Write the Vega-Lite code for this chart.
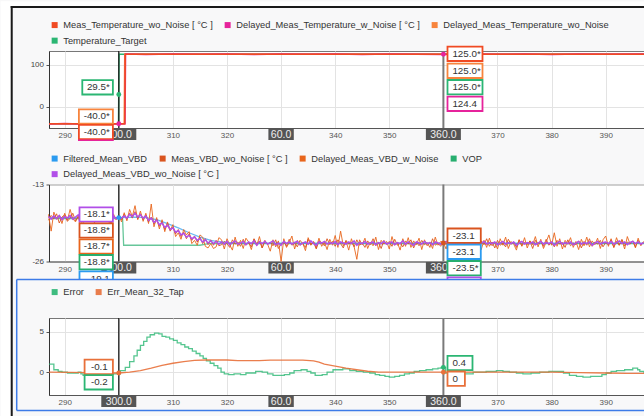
{
"$schema":"https://vega.github.io/schema/vega-lite/v6.json",
"background":"#f8f8f9",
"padding":0,
"autosize":{"type":"pad"},
"spacing":56.5,
"bounds":"flush",
"config":{"font":"Liberation Sans","view":{"stroke":"#777","fill":"white"}},
"resolve":{"scale":{"x":"independent","y":"independent","color":"independent","stroke":"independent","shape":"independent"},"legend":{"color":"independent","stroke":"independent"}},
"datasets":{
"one":[{"n":1}],
"cur":[{"k":"A","t":300,"lab":"300.0"},{"k":"D","t":330,"lab":"60.0"},{"k":"B","t":360,"lab":"360.0"}],
"d1":[
{"t":287.1,"s":"tt","v":-40},{"t":299.95,"s":"tt","v":-40},{"t":300.05,"s":"tt","v":125},{"t":397.08,"s":"tt","v":125},
{"t":287.1,"s":"dwo","v":-40},{"t":301.0,"s":"dwo","v":-40},{"t":301.1,"s":"dwo","v":125},{"t":397.08,"s":"dwo","v":125},
{"t":287.1,"s":"dw","v":-40.5},{"t":290,"s":"dw","v":-39.6},{"t":293,"s":"dw","v":-40.4},{"t":296,"s":"dw","v":-39.7},{"t":299,"s":"dw","v":-40.3},{"t":301.15,"s":"dw","v":-40},{"t":301.25,"s":"dw","v":125.4},{"t":305,"s":"dw","v":124.5},{"t":310,"s":"dw","v":125.6},{"t":315,"s":"dw","v":124.6},{"t":320,"s":"dw","v":125.5},{"t":325,"s":"dw","v":124.4},{"t":330,"s":"dw","v":125.3},{"t":335,"s":"dw","v":124.7},{"t":340,"s":"dw","v":125.6},{"t":345,"s":"dw","v":124.5},{"t":350,"s":"dw","v":125.4},{"t":355,"s":"dw","v":124.6},{"t":360,"s":"dw","v":124.4},{"t":365,"s":"dw","v":125.5},{"t":370,"s":"dw","v":124.6},{"t":375,"s":"dw","v":125.4},{"t":380,"s":"dw","v":124.5},{"t":385,"s":"dw","v":125.6},{"t":390,"s":"dw","v":124.6},{"t":397.08,"s":"dw","v":125.2},
{"t":287.1,"s":"m","v":-40},{"t":301.1,"s":"m","v":-40},{"t":301.2,"s":"m","v":125},{"t":397.08,"s":"m","v":125}
],
"dots1":[{"t":300,"v":29.5,"s":"tt"},{"t":300,"v":-40,"s":"dw"},{"t":360,"v":125,"s":"dw"}],
"ro1":[
{"t":300,"side":"L","ly":46.5,"txt":"29.5*","s":"tt"},
{"t":300,"side":"L","ly":-22.7,"txt":"-40.0*","s":"dwo"},
{"t":300,"side":"L","ly":-59.5,"txt":"-40.0*","s":"m"},
{"t":300,"side":"L","ly":-96.2,"txt":"-40.0","s":"dw"},
{"t":360,"side":"R","ly":126.0,"txt":"125.0*","s":"m"},
{"t":360,"side":"R","ly":85.6,"txt":"125.0*","s":"dwo"},
{"t":360,"side":"R","ly":46.7,"txt":"125.0*","s":"tt"},
{"t":360,"side":"R","ly":7.4,"txt":"124.4","s":"dw"}
],
"sm":[
{"t":287.1,"s":"vop","v":-19.3},{"t":300.7,"s":"vop","v":-19.3},{"t":300.9,"s":"vop","v":-24.2},{"t":315,"s":"vop","v":-24.2},{"t":316.5,"s":"vop","v":-23.9},{"t":397.08,"s":"vop","v":-23.9},
{"t":287.1,"s":"f","v":-19.1},{"t":300,"s":"f","v":-19.1},{"t":303,"s":"f","v":-19.0},{"t":305,"s":"f","v":-19.1},{"t":307,"s":"f","v":-19.5},{"t":309,"s":"f","v":-20.2},{"t":311,"s":"f","v":-21.0},{"t":313,"s":"f","v":-21.9},{"t":315,"s":"f","v":-22.7},{"t":317,"s":"f","v":-23.3},{"t":318,"s":"f","v":-23.5},{"t":320,"s":"f","v":-23.7},{"t":322,"s":"f","v":-23.8},{"t":397.08,"s":"f","v":-23.8}
],
"vbd":[
{"t":287,"a":-18.5,"b":-19.6,"c":-18.9},{"t":287.5,"a":-21.6,"b":-18.7,"c":-19.4},{"t":288,"a":-18.1,"b":-19.3,"c":-18.8},{"t":288.5,"a":-19.4,"b":-18.4,"c":-19.3},{"t":289,"a":-18.7,"b":-20.1,"c":-18.7},{"t":289.5,"a":-20.2,"b":-19.0,"c":-19.5},{"t":290,"a":-18.3,"b":-18.6,"c":-18.9},{"t":290.5,"a":-19.6,"b":-19.8,"c":-19.2},{"t":291,"a":-17.6,"b":-19.2,"c":-18.7},{"t":291.5,"a":-19.3,"b":-18.3,"c":-19.4},
{"t":292,"a":-19.9,"b":-19.7,"c":-19.0},{"t":292.5,"a":-18.8,"b":-18.9,"c":-18.6},{"t":293,"a":-21.0,"b":-19.5,"c":-19.3},{"t":293.5,"a":-18.2,"b":-20.0,"c":-18.9},{"t":294,"a":-19.0,"b":-18.5,"c":-19.5},{"t":294.5,"a":-19.7,"b":-19.1,"c":-18.8},{"t":295,"a":-18.0,"b":-18.8,"c":-19.1},{"t":295.5,"a":-20.1,"b":-19.9,"c":-19.6},{"t":296,"a":-18.6,"b":-18.6,"c":-18.7},{"t":296.5,"a":-19.2,"b":-19.4,"c":-19.2},
{"t":297,"a":-17.8,"b":-18.2,"c":-18.6},{"t":297.5,"a":-19.8,"b":-19.6,"c":-19.4},{"t":298,"a":-18.9,"b":-18.9,"c":-18.9},{"t":298.5,"a":-21.4,"b":-20.2,"c":-19.6},{"t":299,"a":-18.4,"b":-18.7,"c":-18.8},{"t":299.5,"a":-19.5,"b":-19.3,"c":-19.3},{"t":300,"a":-18.6,"b":-18.8,"c":-18.9},{"t":300.5,"a":-19.9,"b":-19.5,"c":-19.2},{"t":301,"a":-18.2,"b":-18.5,"c":-18.8},{"t":301.5,"a":-19.7,"b":-19.4,"c":-19.2},
{"t":302,"a":-17.6,"b":-18.3,"c":-18.5},{"t":302.5,"a":-18.9,"b":-19.2,"c":-18.9},{"t":303,"a":-16.9,"b":-18.0,"c":-18.3},{"t":303.5,"a":-19.5,"b":-19.3,"c":-19.0},{"t":304,"a":-17.9,"b":-18.4,"c":-18.6},{"t":304.5,"a":-19.8,"b":-19.5,"c":-19.2},{"t":305,"a":-18.3,"b":-18.6,"c":-18.8},{"t":305.5,"a":-20.2,"b":-19.9,"c":-19.6},{"t":306,"a":-16.6,"b":-19.0,"c":-19.2},{"t":306.5,"a":-20.8,"b":-20.3,"c":-20.0},
{"t":307,"a":-19.1,"b":-19.4,"c":-19.6},{"t":307.5,"a":-21.2,"b":-20.7,"c":-20.4},{"t":308,"a":-19.5,"b":-19.9,"c":-20.1},{"t":308.5,"a":-21.7,"b":-21.3,"c":-20.9},{"t":309,"a":-19.9,"b":-20.2,"c":-20.5},{"t":309.5,"a":-21.4,"b":-21.6,"c":-21.3},{"t":310,"a":-20.4,"b":-20.8,"c":-21.0},{"t":310.5,"a":-22.6,"b":-22.1,"c":-21.8},{"t":311,"a":-21.9,"b":-21.3,"c":-21.5},{"t":311.5,"a":-23.1,"b":-22.6,"c":-22.3},
{"t":312,"a":-21.3,"b":-21.8,"c":-22.0},{"t":312.5,"a":-22.3,"b":-23.0,"c":-22.7},{"t":313,"a":-21.7,"b":-22.1,"c":-22.4},{"t":313.5,"a":-23.9,"b":-23.3,"c":-23.0},{"t":314,"a":-23.3,"b":-22.5,"c":-22.7},{"t":314.5,"a":-24.2,"b":-23.6,"c":-23.3},{"t":315,"a":-22.3,"b":-22.7,"c":-23.0},{"t":315.5,"a":-22.7,"b":-23.9,"c":-23.6},{"t":316,"a":-24.4,"b":-23.0,"c":-23.2},{"t":316.5,"a":-24.7,"b":-24.1,"c":-23.8},
{"t":317,"a":-23.9,"b":-23.2,"c":-23.4},{"t":317.5,"a":-24.8,"b":-24.2,"c":-23.9},{"t":318,"a":-24.5,"b":-23.3,"c":-23.5},{"t":318.5,"a":-22.8,"b":-24.3,"c":-24.0},{"t":319,"a":-23.2,"b":-24.1,"c":-23.6},{"t":319.5,"a":-24.9,"b":-23.5,"c":-24.0},{"t":320,"a":-23.0,"b":-23.9,"c":-23.5},{"t":320.5,"a":-24.1,"b":-24.6,"c":-24.1},{"t":321,"a":-25.1,"b":-23.2,"c":-23.7},{"t":321.5,"a":-22.7,"b":-24.0,"c":-23.4},
{"t":322,"a":-24.4,"b":-23.6,"c":-24.0},{"t":322.5,"a":-23.3,"b":-24.4,"c":-23.8},{"t":323,"a":-24.8,"b":-23.1,"c":-23.5},{"t":323.5,"a":-22.9,"b":-24.2,"c":-24.1},{"t":324,"a":-23.6,"b":-23.7,"c":-23.6},{"t":324.5,"a":-25.0,"b":-24.5,"c":-23.9},{"t":325,"a":-23.1,"b":-23.0,"c":-23.4},{"t":325.5,"a":-24.3,"b":-24.0,"c":-24.2},{"t":326,"a":-22.6,"b":-23.4,"c":-23.6},{"t":326.5,"a":-24.7,"b":-24.7,"c":-23.9},
{"t":327,"a":-23.5,"b":-23.3,"c":-23.5},{"t":327.5,"a":-24.0,"b":-24.1,"c":-24.0},{"t":328,"a":-25.3,"b":-23.6,"c":-23.7},{"t":328.5,"a":-23.2,"b":-24.3,"c":-23.4},{"t":329,"a":-24.5,"b":-23.2,"c":-24.1},{"t":329.5,"a":-23.4,"b":-24.8,"c":-23.8},{"t":330,"a":-27.2,"b":-24.0,"c":-24.2},{"t":330.5,"a":-23.0,"b":-23.5,"c":-23.5},{"t":331,"a":-24.6,"b":-24.4,"c":-23.9},{"t":331.5,"a":-23.7,"b":-23.1,"c":-23.6},
{"t":332,"a":-22.5,"b":-24.2,"c":-24.0},{"t":332.5,"a":-24.9,"b":-23.8,"c":-23.7},{"t":333,"a":-23.3,"b":-24.5,"c":-23.5},{"t":333.5,"a":-24.2,"b":-23.3,"c":-24.1},{"t":334,"a":-23.8,"b":-23.9,"c":-23.8},{"t":334.5,"a":-25.2,"b":-24.6,"c":-23.6},{"t":335,"a":-22.8,"b":-23.1,"c":-24.0},{"t":335.5,"a":-24.0,"b":-24.2,"c":-23.4},{"t":336,"a":-23.5,"b":-23.6,"c":-23.9},{"t":336.5,"a":-24.7,"b":-24.9,"c":-24.2},
{"t":337,"a":-22.9,"b":-23.4,"c":-23.6},{"t":337.5,"a":-24.4,"b":-23.7,"c":-23.8},{"t":338,"a":-23.6,"b":-24.3,"c":-23.5},{"t":338.5,"a":-25.0,"b":-23.0,"c":-24.0},{"t":339,"a":-23.1,"b":-24.1,"c":-23.7},{"t":339.5,"a":-24.2,"b":-23.5,"c":-23.9},{"t":340,"a":-22.4,"b":-24.4,"c":-23.5},{"t":340.5,"a":-24.6,"b":-23.2,"c":-24.1},{"t":341,"a":-21.6,"b":-23.9,"c":-23.6},{"t":341.5,"a":-24.3,"b":-24.7,"c":-23.8},
{"t":342,"a":-23.4,"b":-23.3,"c":-24.0},{"t":342.5,"a":-25.1,"b":-24.0,"c":-23.6},{"t":343,"a":-23.0,"b":-23.6,"c":-23.9},{"t":343.5,"a":-24.5,"b":-24.5,"c":-23.4},{"t":344,"a":-26.8,"b":-23.2,"c":-24.2},{"t":344.5,"a":-23.2,"b":-24.2,"c":-23.7},{"t":345,"a":-24.1,"b":-23.8,"c":-23.9},{"t":345.5,"a":-22.9,"b":-24.6,"c":-23.5},{"t":346,"a":-24.8,"b":-23.4,"c":-24.0},{"t":346.5,"a":-23.6,"b":-24.1,"c":-23.8},
{"t":347,"a":-24.3,"b":-23.0,"c":-23.6},{"t":347.5,"a":-22.7,"b":-24.3,"c":-24.1},{"t":348,"a":-25.0,"b":-23.7,"c":-23.7},{"t":348.5,"a":-23.3,"b":-24.8,"c":-23.9},{"t":349,"a":-24.0,"b":-23.3,"c":-23.5},{"t":349.5,"a":-23.5,"b":-24.0,"c":-24.0},{"t":350,"a":-24.9,"b":-23.5,"c":-23.8},{"t":350.5,"a":-22.6,"b":-24.4,"c":-23.6},{"t":351,"a":-24.2,"b":-23.1,"c":-24.1},{"t":351.5,"a":-23.7,"b":-24.2,"c":-23.7},
{"t":352,"a":-25.1,"b":-23.8,"c":-23.9},{"t":352.5,"a":-23.0,"b":-24.5,"c":-23.4},{"t":353,"a":-24.4,"b":-23.4,"c":-24.0},{"t":353.5,"a":-22.8,"b":-24.0,"c":-23.6},{"t":354,"a":-24.6,"b":-23.2,"c":-23.9},{"t":354.5,"a":-23.4,"b":-24.7,"c":-24.2},{"t":355,"a":-24.1,"b":-23.6,"c":-23.6},{"t":355.5,"a":-22.9,"b":-24.3,"c":-23.8},{"t":356,"a":-25.0,"b":-23.3,"c":-24.0},{"t":356.5,"a":-23.2,"b":-24.1,"c":-23.5},
{"t":357,"a":-24.3,"b":-23.7,"c":-23.9},{"t":357.5,"a":-23.6,"b":-24.6,"c":-23.7},{"t":358,"a":-24.8,"b":-23.0,"c":-24.1},{"t":358.5,"a":-22.7,"b":-24.2,"c":-23.6},{"t":359,"a":-24.2,"b":-23.8,"c":-23.8},{"t":359.5,"a":-23.5,"b":-24.4,"c":-24.0},{"t":360,"a":-23.7,"b":-23.5,"c":-23.8},{"t":360.5,"a":-24.9,"b":-24.1,"c":-23.5},{"t":361,"a":-22.8,"b":-23.3,"c":-24.0},{"t":361.5,"a":-24.4,"b":-24.6,"c":-23.7},
{"t":362,"a":-23.3,"b":-23.6,"c":-23.9},{"t":362.5,"a":-25.2,"b":-24.2,"c":-23.6},{"t":363,"a":-23.0,"b":-23.1,"c":-24.1},{"t":363.5,"a":-24.1,"b":-24.5,"c":-23.8},{"t":364,"a":-22.6,"b":-23.7,"c":-23.5},{"t":364.5,"a":-24.7,"b":-24.0,"c":-24.0},{"t":365,"a":-23.4,"b":-23.2,"c":-23.7},{"t":365.5,"a":-24.5,"b":-24.8,"c":-23.9},{"t":366,"a":-23.1,"b":-23.5,"c":-23.6},{"t":366.5,"a":-24.0,"b":-24.3,"c":-24.2},
{"t":367,"a":-25.0,"b":-23.4,"c":-23.8},{"t":367.5,"a":-23.3,"b":-24.1,"c":-23.5},{"t":368,"a":-24.6,"b":-23.0,"c":-24.0},{"t":368.5,"a":-22.9,"b":-24.4,"c":-23.7},{"t":369,"a":-24.3,"b":-23.6,"c":-23.9},{"t":369.5,"a":-23.6,"b":-24.7,"c":-23.6},{"t":370,"a":-24.9,"b":-23.3,"c":-24.1},{"t":370.5,"a":-23.0,"b":-24.2,"c":-23.8},{"t":371,"a":-24.2,"b":-23.8,"c":-23.5},{"t":371.5,"a":-22.7,"b":-24.5,"c":-24.0},
{"t":372,"a":-24.8,"b":-23.1,"c":-23.7},{"t":372.5,"a":-23.5,"b":-24.0,"c":-23.9},{"t":373,"a":-24.0,"b":-23.6,"c":-23.6},{"t":373.5,"a":-25.1,"b":-24.6,"c":-24.2},{"t":374,"a":-23.2,"b":-23.2,"c":-23.8},{"t":374.5,"a":-24.4,"b":-24.3,"c":-23.5},{"t":375,"a":-22.8,"b":-23.7,"c":-24.0},{"t":375.5,"a":-24.7,"b":-24.1,"c":-23.7},{"t":376,"a":-23.4,"b":-23.4,"c":-23.9},{"t":376.5,"a":-24.1,"b":-24.8,"c":-23.6},
{"t":377,"a":-22.6,"b":-23.3,"c":-24.1},{"t":377.5,"a":-24.5,"b":-24.0,"c":-23.8},{"t":378,"a":-23.1,"b":-23.5,"c":-23.5},{"t":378.5,"a":-24.8,"b":-24.4,"c":-24.0},{"t":379,"a":-23.6,"b":-23.1,"c":-23.7},{"t":379.5,"a":-22.3,"b":-24.2,"c":-23.9},{"t":380,"a":-24.2,"b":-23.6,"c":-23.6},{"t":380.5,"a":-21.9,"b":-24.5,"c":-24.2},{"t":381,"a":-24.4,"b":-23.3,"c":-23.8},{"t":381.5,"a":-23.0,"b":-24.0,"c":-23.5},
{"t":382,"a":-24.9,"b":-23.7,"c":-24.0},{"t":382.5,"a":-23.3,"b":-24.6,"c":-23.7},{"t":383,"a":-24.0,"b":-23.2,"c":-23.9},{"t":383.5,"a":-22.8,"b":-24.3,"c":-23.6},{"t":384,"a":-24.6,"b":-23.8,"c":-24.1},{"t":384.5,"a":-23.5,"b":-24.1,"c":-23.8},{"t":385,"a":-25.0,"b":-23.4,"c":-23.5},{"t":385.5,"a":-23.1,"b":-24.7,"c":-24.0},{"t":386,"a":-24.3,"b":-23.5,"c":-23.7},{"t":386.5,"a":-22.7,"b":-24.2,"c":-23.9},
{"t":387,"a":-24.5,"b":-23.0,"c":-23.6},{"t":387.5,"a":-23.4,"b":-24.4,"c":-24.2},{"t":388,"a":-24.1,"b":-23.6,"c":-23.8},{"t":388.5,"a":-22.9,"b":-24.0,"c":-23.5},{"t":389,"a":-24.8,"b":-23.3,"c":-24.0},{"t":389.5,"a":-23.2,"b":-24.5,"c":-23.7},{"t":390,"a":-22.5,"b":-23.7,"c":-23.6},{"t":390.5,"a":-24.4,"b":-24.1,"c":-23.9},{"t":391,"a":-23.0,"b":-23.2,"c":-23.5},{"t":391.5,"a":-24.6,"b":-24.6,"c":-24.0},
{"t":392,"a":-22.8,"b":-23.5,"c":-23.7},{"t":392.5,"a":-24.2,"b":-24.2,"c":-23.4},{"t":393,"a":-23.3,"b":-23.1,"c":-23.9},{"t":393.5,"a":-24.9,"b":-24.3,"c":-23.6},{"t":394,"a":-22.6,"b":-23.6,"c":-24.1},{"t":394.5,"a":-24.0,"b":-24.0,"c":-23.7},{"t":395,"a":-23.4,"b":-23.4,"c":-23.5},{"t":395.5,"a":-24.7,"b":-24.5,"c":-23.9},{"t":396,"a":-22.9,"b":-23.3,"c":-23.6},{"t":396.5,"a":-24.3,"b":-24.1,"c":-24.0},
{"t":397,"a":-23.5,"b":-23.7,"c":-23.7}
],
"dots2":[{"t":300,"v":-19.1,"s":"f"},{"t":360,"v":-23.8,"s":"b"}],
"ro2":[
{"t":300,"side":"L","ly":-18.53,"txt":"-18.1*","s":"c"},
{"t":300,"side":"L","ly":-21.48,"txt":"-18.8*","s":"b"},
{"t":300,"side":"L","ly":-24.43,"txt":"-18.7*","s":"a"},
{"t":300,"side":"L","ly":-27.33,"txt":"-18.8*","s":"vop"},
{"t":300,"side":"L","ly":-30.34,"txt":"-19.1","s":"f"},
{"t":360,"side":"R","ly":-22.44,"txt":"-23.1","s":"b"},
{"t":360,"side":"R","ly":-25.41,"txt":"-23.1","s":"f"},
{"t":360,"side":"R","ly":-28.44,"txt":"-23.5*","s":"vop"},
{"t":360,"side":"R","ly":-31.44,"txt":"-23.2*","s":"c"}
],
"e3":[
{"t":287.1,"s":"err","v":1.0},{"t":288.0,"s":"err","v":0.3},{"t":288.8,"s":"err","v":0.1},{"t":289.5,"s":"err","v":0.0},{"t":290.5,"s":"err","v":-0.1},{"t":292.5,"s":"err","v":0.0},{"t":293.0,"s":"err","v":-0.2},{"t":293.4,"s":"err","v":-0.4},{"t":294.3,"s":"err","v":-0.2},{"t":300.3,"s":"err","v":0.2},{"t":301.2,"s":"err","v":0.6},{"t":302.0,"s":"err","v":1.3},{"t":302.8,"s":"err","v":2.0},{"t":303.4,"s":"err","v":2.7},{"t":304.0,"s":"err","v":3.3},{"t":304.6,"s":"err","v":3.8},{"t":305.2,"s":"err","v":4.3},{"t":305.8,"s":"err","v":4.6},{"t":306.6,"s":"err","v":4.8},{"t":307.4,"s":"err","v":4.7},{"t":308.0,"s":"err","v":4.4},{"t":308.7,"s":"err","v":4.3},{"t":309.4,"s":"err","v":4.1},{"t":310.1,"s":"err","v":3.9},{"t":310.8,"s":"err","v":3.6},{"t":311.5,"s":"err","v":3.4},{"t":312.2,"s":"err","v":3.1},{"t":312.9,"s":"err","v":2.9},{"t":313.6,"s":"err","v":2.6},{"t":314.3,"s":"err","v":2.3},{"t":315.0,"s":"err","v":2.0},{"t":315.6,"s":"err","v":1.7},{"t":316.2,"s":"err","v":1.4},{"t":316.9,"s":"err","v":1.1},{"t":317.6,"s":"err","v":0.8},{"t":318.3,"s":"err","v":0.5},{"t":318.9,"s":"err","v":0.0},{"t":319.5,"s":"err","v":-0.2},{"t":320.3,"s":"err","v":-0.3},{"t":321.3,"s":"err","v":-0.2},{"t":322.5,"s":"err","v":-0.3},{"t":323.5,"s":"err","v":-0.1},{"t":325.3,"s":"err","v":0.1},{"t":326.5,"s":"err","v":0.0},{"t":327.5,"s":"err","v":-0.2},{"t":328.5,"s":"err","v":-0.4},{"t":330.6,"s":"err","v":-0.3},{"t":331.6,"s":"err","v":-0.1},{"t":332.4,"s":"err","v":0.2},{"t":333.7,"s":"err","v":0.3},{"t":334.8,"s":"err","v":0.1},{"t":335.5,"s":"err","v":-0.1},{"t":336.3,"s":"err","v":-0.4},{"t":337.6,"s":"err","v":-0.3},{"t":338.5,"s":"err","v":0.0},{"t":339.6,"s":"err","v":0.3},{"t":341.4,"s":"err","v":0.4},{"t":342.7,"s":"err","v":0.2},{"t":343.9,"s":"err","v":0.1},{"t":345.2,"s":"err","v":0.0},{"t":346.4,"s":"err","v":-0.1},{"t":347.4,"s":"err","v":-0.3},{"t":348.2,"s":"err","v":-0.4},{"t":349.2,"s":"err","v":-0.5},{"t":350.0,"s":"err","v":-0.6},{"t":351.0,"s":"err","v":-0.5},{"t":351.9,"s":"err","v":-0.4},{"t":352.8,"s":"err","v":-0.2},{"t":353.7,"s":"err","v":-0.1},{"t":354.6,"s":"err","v":0.1},{"t":355.6,"s":"err","v":0.2},{"t":356.8,"s":"err","v":0.3},{"t":358.0,"s":"err","v":0.4},{"t":359.0,"s":"err","v":0.5},{"t":359.6,"s":"err","v":0.6},{"t":360.4,"s":"err","v":-0.1},{"t":361.8,"s":"err","v":-0.2},{"t":365.5,"s":"err","v":0.0},{"t":367.9,"s":"err","v":0.1},{"t":369.8,"s":"err","v":0.2},{"t":371.0,"s":"err","v":0.1},{"t":372.2,"s":"err","v":0.0},{"t":373.5,"s":"err","v":-0.1},{"t":374.7,"s":"err","v":-0.2},{"t":376.2,"s":"err","v":-0.1},{"t":377.8,"s":"err","v":0.0},{"t":379.5,"s":"err","v":0.1},{"t":382.2,"s":"err","v":-0.1},{"t":383.3,"s":"err","v":-0.4},{"t":384.6,"s":"err","v":-0.5},{"t":385.8,"s":"err","v":-0.6},{"t":387.2,"s":"err","v":-0.5},{"t":389.3,"s":"err","v":-0.3},{"t":390.1,"s":"err","v":-0.1},{"t":391.0,"s":"err","v":0.1},{"t":392.0,"s":"err","v":0.2},{"t":393.5,"s":"err","v":0.3},{"t":395.0,"s":"err","v":0.5},{"t":395.9,"s":"err","v":0.3},{"t":396.3,"s":"err","v":0.1},{"t":397.08,"s":"err","v":-0.2},
{"t":287.1,"s":"em","v":0.0},{"t":295,"s":"em","v":-0.05},{"t":300,"s":"em","v":-0.1},{"t":302,"s":"em","v":0.0},{"t":304,"s":"em","v":0.2},{"t":306,"s":"em","v":0.5},{"t":308,"s":"em","v":0.85},{"t":310,"s":"em","v":1.1},{"t":312,"s":"em","v":1.3},{"t":314,"s":"em","v":1.45},{"t":316,"s":"em","v":1.5},{"t":320,"s":"em","v":1.5},{"t":322,"s":"em","v":1.42},{"t":326,"s":"em","v":1.42},{"t":328,"s":"em","v":1.48},{"t":334,"s":"em","v":1.48},{"t":336,"s":"em","v":1.4},{"t":337,"s":"em","v":1.25},{"t":338,"s":"em","v":1.0},{"t":340,"s":"em","v":0.75},{"t":342,"s":"em","v":0.5},{"t":344,"s":"em","v":0.3},{"t":346,"s":"em","v":0.12},{"t":348,"s":"em","v":0.0},{"t":360,"s":"em","v":0.0},{"t":380,"s":"em","v":0.0},{"t":385,"s":"em","v":-0.05},{"t":390,"s":"em","v":-0.1},{"t":394,"s":"em","v":-0.15},{"t":397.08,"s":"em","v":-0.15}
],
"dots3":[{"t":300,"v":-0.1,"s":"em"},{"t":360,"v":0.6,"s":"err"},{"t":360,"v":0,"s":"em"}],
"ro3":[
{"t":300,"side":"L","ly":0.66,"txt":"-0.1","s":"em"},
{"t":300,"side":"L","ly":-1.24,"txt":"-0.2","s":"err"},
{"t":360,"side":"R","ly":1.13,"txt":"0.4","s":"err"},
{"t":360,"side":"R","ly":-0.80,"txt":"0","s":"em"}
]
},
"vconcat":[
{
"width":595,"height":77,
"resolve":{"scale":{"shape":"independent"}},
"layer":[
{"data":{"name":"one"},"mark":{"type":"rect","fill":"white"},"encoding":{"x":{"datum":278.17,"type":"quantitative"},"x2":{"datum":280.02},"y":{"datum":250,"type":"quantitative"},"y2":{"datum":-734}}},
{"data":{"name":"one"},"mark":{"type":"rect","fill":"white"},"encoding":{"x":{"datum":278.17,"type":"quantitative"},"x2":{"datum":397.12},"y":{"datum":250,"type":"quantitative"},"y2":{"datum":239.3}}},
{"data":{"name":"one"},"mark":{"type":"rule","color":"#1a1a1a","strokeWidth":2},"encoding":{"x":{"datum":280.21,"type":"quantitative"},"y":{"datum":239.3,"type":"quantitative"},"y2":{"datum":-734}}},
{"data":{"name":"one"},"mark":{"type":"rule","color":"#1a1a1a","strokeWidth":2},"encoding":{"x":{"datum":280.02,"type":"quantitative"},"x2":{"datum":397.12},"y":{"datum":236.9,"type":"quantitative"}}},
{"data":{"name":"d1"},"mark":{"type":"line","strokeWidth":1.5},"encoding":{
 "x":{"field":"t","type":"quantitative","scale":{"domain":[287.1,397.08],"nice":false,"zero":false},"axis":{"values":[290,300,310,320,330,340,350,360,370,380,390],"labelExpr":"datum.value == 300 || datum.value == 330 || datum.value == 360 ? '' : datum.label","format":"d","title":null,"ticks":false,"grid":true,"gridColor":"#e3e3e3","domainColor":"#555","labelFontSize":8,"labelColor":"#555","labelPadding":3.5,"labelFlush":false,"labelOverlap":false}},
 "y":{"field":"v","type":"quantitative","scale":{"domain":[-50,132.6],"nice":false,"zero":false},"axis":{"values":[0,100],"title":null,"grid":true,"gridColor":"#e3e3e3","domainColor":"#333","tickColor":"#555","tickSize":3,"labelFontSize":8,"labelColor":"#444","labelPadding":2.5,"labelOverlap":false}},
 "color":{"field":"s","type":"nominal","scale":{"domain":["m","dw","dwo","tt"],"range":["#f04a23","#e6239b","#f7843d","#2bb673"]},
  "legend":{"orient":"none","legendX":1,"legendY":-31,"direction":"horizontal","columns":3,"title":null,"padding":0,"symbolType":"square","symbolSize":9,"symbolStrokeWidth":3,"symbolOpacity":1,"labelFontSize":9.3,"labelColor":"#333","labelOffset":4,"labelLimit":0,"columnPadding":7,"rowPadding":0,
  "labelExpr":"datum.label == 'm' ? 'Meas_Temperature_wo_Noise [ °C ]' : datum.label == 'dw' ? 'Delayed_Meas_Temperature_w_Noise [ °C ]' : datum.label == 'dwo' ? 'Delayed_Meas_Temperature_wo_Noise' : 'Temperature_Target'"}}}},
{"data":{"name":"cur"},"transform":[{"filter":"datum.k == 'A'"}],"mark":{"type":"rule","color":"#1e1e1e","strokeWidth":1.3},"encoding":{"x":{"field":"t","type":"quantitative"}}},
{"data":{"name":"cur"},"transform":[{"filter":"datum.k == 'B'"}],"mark":{"type":"rule","color":"#7a7a7a","strokeWidth":2},"encoding":{"x":{"field":"t","type":"quantitative"}}},
{"data":{"name":"dots1"},"mark":{"type":"circle","size":24,"opacity":1},"encoding":{"x":{"field":"t","type":"quantitative"},"y":{"field":"v","type":"quantitative"},"color":{"field":"s","type":"nominal"}}},
{"data":{"name":"cur"},"mark":{"type":"point","filled":true,"fill":"#555","strokeWidth":0,"size":400,"opacity":1},"encoding":{"x":{"field":"t","type":"quantitative"},"y":{"datum":-50,"type":"quantitative"},"shape":{"field":"lab","type":"nominal","scale":{"domain":["300.0","60.0","360.0"],"range":["M-1.75,0.05H1.75V1.2H-1.75Z","M-1.27,0.05H1.27V1.2H-1.27Z","M-1.75,0.05H1.75V1.2H-1.75Z"]},"legend":null}}},
{"data":{"name":"cur"},"mark":{"type":"text","fontSize":10.5,"color":"#eeeeee","dy":6.5,"baseline":"middle"},"encoding":{"x":{"field":"t","type":"quantitative"},"y":{"datum":-50,"type":"quantitative"},"text":{"field":"lab"}}},
{"data":{"name":"ro1"},"mark":{"type":"point","filled":true,"fill":"white","strokeWidth":1.8,"size":400,"opacity":1},"encoding":{"x":{"field":"t","type":"quantitative"},"y":{"field":"ly","type":"quantitative"},
 "shape":{"field":"txt","type":"nominal","scale":{"domain":["29.5*","-40.0*","-40.0","125.0*","124.4"],"range":["M-3.65,-0.72H-0.59V0.72H-3.65Z","M-3.99,-0.72H-0.59V0.72H-3.99Z","M-3.99,-0.72H-0.59V0.72H-3.99Z","M0.41,-0.72H3.91V0.72H0.41Z","M0.41,-0.72H3.91V0.72H0.41Z"]},"legend":null},
 "stroke":{"field":"s","type":"nominal","scale":{"domain":["m","dw","dwo","tt"],"range":["#f04a23","#e6239b","#f7843d","#2bb673"]},"legend":null}}},
{"data":{"name":"ro1"},"transform":[{"filter":"datum.side == 'L'"}],"mark":{"type":"text","fontSize":9.8,"color":"#333","align":"right","dx":-9,"baseline":"middle"},"encoding":{"x":{"field":"t","type":"quantitative"},"y":{"field":"ly","type":"quantitative"},"text":{"field":"txt"}}},
{"data":{"name":"ro1"},"transform":[{"filter":"datum.side == 'R'"}],"mark":{"type":"text","fontSize":9.8,"color":"#333","align":"left","dx":9,"baseline":"middle"},"encoding":{"x":{"field":"t","type":"quantitative"},"y":{"field":"ly","type":"quantitative"},"text":{"field":"txt"}}}
]
},
{
"width":595,"height":77,
"resolve":{"scale":{"shape":"independent"}},
"layer":[
{"data":{"name":"one"},"mark":{"type":"rect","fill":"#f8f8f9"},"encoding":{"x":{"datum":280.48,"type":"quantitative"},"x2":{"datum":397.12},"y":{"datum":-4.98,"type":"quantitative"},"y2":{"datum":-12.08}}},
{"data":{"name":"sm"},"mark":{"type":"line","strokeWidth":1.3,"opacity":0.7},"encoding":{
 "x":{"field":"t","type":"quantitative","scale":{"domain":[287.1,397.08],"nice":false,"zero":false},"axis":{"values":[290,300,310,320,330,340,350,360,370,380,390],"labelExpr":"datum.value == 300 || datum.value == 330 || datum.value == 360 ? '' : datum.label","format":"d","title":null,"ticks":false,"grid":true,"gridColor":"#e3e3e3","domainColor":"#555","labelFontSize":8,"labelColor":"#555","labelPadding":3.5,"labelFlush":false,"labelOverlap":false}},
 "y":{"field":"v","type":"quantitative","scale":{"domain":[-27.2,-13],"nice":false,"zero":false},"axis":{"values":[-13,-20,-27.2],"labelExpr":"datum.value > -16 ? '-13' : datum.value > -24 ? '-20' : '-26'","title":null,"grid":true,"gridColor":"#e3e3e3","domainColor":"#333","tickColor":"#555","tickSize":3,"labelFontSize":8,"labelColor":"#444","labelPadding":2.5,"labelOverlap":false}},
 "color":{"field":"s","type":"nominal","scale":{"domain":["f","b","a","vop","c"],"range":["#2b9bf0","#d9541f","#e8651c","#27ae6f","#b14fe8"]},
  "legend":{"orient":"none","legendX":1,"legendY":-31,"direction":"horizontal","columns":4,"values":["f","b","a","vop"],"title":null,"padding":0,"symbolType":"square","symbolSize":9,"symbolStrokeWidth":3,"symbolOpacity":1,"labelFontSize":9.3,"labelColor":"#333","labelOffset":4,"labelLimit":0,"columnPadding":7,"rowPadding":0,
  "labelExpr":"datum.label == 'f' ? 'Filtered_Mean_VBD' : datum.label == 'b' ? 'Meas_VBD_wo_Noise [ °C ]' : datum.label == 'a' ? 'Delayed_Meas_VBD_w_Noise' : datum.label == 'vop' ? 'VOP' : 'Delayed_Meas_VBD_wo_Noise [ °C ]'"}}}},
{"data":{"name":"vbd"},"transform":[{"fold":["a","b"],"as":["s","v"]}],"mark":{"type":"line","strokeWidth":0.9},"encoding":{"x":{"field":"t","type":"quantitative"},"y":{"field":"v","type":"quantitative"},"color":{"field":"s","type":"nominal"}}},
{"data":{"name":"vbd"},"transform":[{"fold":["c"],"as":["s","v"]}],"mark":{"type":"line","strokeWidth":1.5},"encoding":{"x":{"field":"t","type":"quantitative"},"y":{"field":"v","type":"quantitative"},"color":{"field":"s","type":"nominal"}}},
{"data":{"name":"cur"},"transform":[{"filter":"datum.k == 'A'"}],"mark":{"type":"rule","color":"#1e1e1e","strokeWidth":1.3},"encoding":{"x":{"field":"t","type":"quantitative"}}},
{"data":{"name":"cur"},"transform":[{"filter":"datum.k == 'B'"}],"mark":{"type":"rule","color":"#7a7a7a","strokeWidth":2},"encoding":{"x":{"field":"t","type":"quantitative"}}},
{"data":{"name":"dots2"},"mark":{"type":"circle","size":24,"opacity":1},"encoding":{"x":{"field":"t","type":"quantitative"},"y":{"field":"v","type":"quantitative"},"color":{"field":"s","type":"nominal"}}},
{"data":{"name":"cur"},"mark":{"type":"point","filled":true,"fill":"#555","strokeWidth":0,"size":400,"opacity":1},"encoding":{"x":{"field":"t","type":"quantitative"},"y":{"datum":-27.2,"type":"quantitative"},"shape":{"field":"lab","type":"nominal","scale":{"domain":["300.0","60.0","360.0"],"range":["M-1.75,0.05H1.75V1.2H-1.75Z","M-1.27,0.05H1.27V1.2H-1.27Z","M-1.75,0.05H1.75V1.2H-1.75Z"]},"legend":null}}},
{"data":{"name":"cur"},"mark":{"type":"text","fontSize":10.5,"color":"#eeeeee","dy":6.5,"baseline":"middle"},"encoding":{"x":{"field":"t","type":"quantitative"},"y":{"datum":-27.2,"type":"quantitative"},"text":{"field":"lab"}}},
{"data":{"name":"ro2"},"mark":{"type":"point","filled":true,"fill":"white","strokeWidth":1.8,"size":400,"opacity":1},"encoding":{"x":{"field":"t","type":"quantitative"},"y":{"field":"ly","type":"quantitative"},
 "shape":{"field":"txt","type":"nominal","scale":{"domain":["-18.1*","-18.8*","-18.7*","-19.1","-23.1","-23.5*","-23.2*"],"range":["M-3.93,-0.72H-0.59V0.72H-3.93Z","M-3.93,-0.72H-0.59V0.72H-3.93Z","M-3.93,-0.72H-0.59V0.72H-3.93Z","M-3.93,-0.72H-0.59V0.72H-3.93Z","M0.41,-0.72H3.74V0.72H0.41Z","M0.41,-0.72H3.74V0.72H0.41Z","M0.41,-0.72H3.74V0.72H0.41Z"]},"legend":null},
 "stroke":{"field":"s","type":"nominal","scale":{"domain":["c","f","b","a","vop"],"range":["#b14fe8","#2b9bf0","#d9541f","#e8651c","#27ae6f"]},
  "legend":{"orient":"none","legendX":1,"legendY":-15,"direction":"horizontal","values":["c"],"title":null,"padding":0,"symbolType":"square","symbolSize":9,"symbolStrokeWidth":3,"symbolOpacity":1,"labelFontSize":9.3,"labelColor":"#333","labelOffset":4,"labelLimit":0,
  "labelExpr":"'Delayed_Meas_VBD_wo_Noise [ °C ]'"}}}},
{"data":{"name":"ro2"},"transform":[{"filter":"datum.side == 'L'"}],"mark":{"type":"text","fontSize":9.8,"color":"#333","align":"right","dx":-9,"baseline":"middle"},"encoding":{"x":{"field":"t","type":"quantitative"},"y":{"field":"ly","type":"quantitative"},"text":{"field":"txt"}}},
{"data":{"name":"ro2"},"transform":[{"filter":"datum.side == 'R'"}],"mark":{"type":"text","fontSize":9.8,"color":"#333","align":"left","dx":9,"baseline":"middle"},"encoding":{"x":{"field":"t","type":"quantitative"},"y":{"field":"ly","type":"quantitative"},"text":{"field":"txt"}}}
]
},
{
"width":595,"height":77,
"resolve":{"scale":{"shape":"independent"}},
"layer":[
{"data":{"name":"one"},"mark":{"type":"rect","fill":"#f8f8f9"},"encoding":{"x":{"datum":281.13,"type":"quantitative"},"x2":{"datum":397.12},"y":{"datum":11.39,"type":"quantitative"},"y2":{"datum":6.84}}},
{"data":{"name":"one"},"mark":{"type":"rule","color":"#3d7be8","strokeWidth":1.5},"encoding":{"x":{"datum":281.13,"type":"quantitative"},"y":{"datum":11.39,"type":"quantitative"},"y2":{"datum":-4.7}}},
{"data":{"name":"one"},"mark":{"type":"rule","color":"#3d7be8","strokeWidth":1.5},"encoding":{"x":{"datum":281.13,"type":"quantitative"},"x2":{"datum":397.12},"y":{"datum":11.39,"type":"quantitative"}}},
{"data":{"name":"one"},"mark":{"type":"rule","color":"#3d7be8","strokeWidth":1.5},"encoding":{"x":{"datum":281.13,"type":"quantitative"},"x2":{"datum":397.12},"y":{"datum":-4.7,"type":"quantitative"}}},
{"data":{"name":"e3"},"transform":[{"filter":"datum.s == 'err'"}],"mark":{"type":"line","interpolate":"step-after","strokeWidth":1.3,"opacity":0.8},"encoding":{
 "x":{"field":"t","type":"quantitative","scale":{"domain":[287.1,397.08],"nice":false,"zero":false},"axis":{"values":[290,300,310,320,330,340,350,360,370,380,390],"labelExpr":"datum.value == 300 || datum.value == 330 || datum.value == 360 ? '' : datum.label","format":"d","title":null,"ticks":false,"grid":true,"gridColor":"#e3e3e3","domainColor":"#555","labelFontSize":8,"labelColor":"#555","labelPadding":3.5,"labelFlush":false,"labelOverlap":false}},
 "y":{"field":"v","type":"quantitative","scale":{"domain":[-2.8,6.66],"nice":false,"zero":false},"axis":{"values":[0,5],"title":null,"grid":true,"gridColor":"#e3e3e3","domainColor":"#333","tickColor":"#555","tickSize":3,"labelFontSize":8,"labelColor":"#444","labelPadding":2.5,"labelOverlap":false}},
 "color":{"field":"s","type":"nominal","scale":{"domain":["err","em"],"range":["#2bb673","#e8703a"]},
  "legend":{"orient":"none","legendX":1,"legendY":-31,"direction":"horizontal","columns":2,"title":null,"padding":0,"symbolType":"square","symbolSize":9,"symbolStrokeWidth":3,"symbolOpacity":1,"labelFontSize":9.3,"labelColor":"#333","labelOffset":4,"labelLimit":0,"columnPadding":7,"rowPadding":0,
  "labelExpr":"datum.label == 'err' ? 'Error' : 'Err_Mean_32_Tap'"}}}},
{"data":{"name":"e3"},"transform":[{"filter":"datum.s == 'em'"}],"mark":{"type":"line","strokeWidth":1.3,"opacity":0.9},"encoding":{"x":{"field":"t","type":"quantitative"},"y":{"field":"v","type":"quantitative"},"color":{"field":"s","type":"nominal"}}},
{"data":{"name":"cur"},"transform":[{"filter":"datum.k == 'A'"}],"mark":{"type":"rule","color":"#1e1e1e","strokeWidth":1.3},"encoding":{"x":{"field":"t","type":"quantitative"}}},
{"data":{"name":"cur"},"transform":[{"filter":"datum.k == 'B'"}],"mark":{"type":"rule","color":"#7a7a7a","strokeWidth":2},"encoding":{"x":{"field":"t","type":"quantitative"}}},
{"data":{"name":"dots3"},"mark":{"type":"circle","size":24,"opacity":1},"encoding":{"x":{"field":"t","type":"quantitative"},"y":{"field":"v","type":"quantitative"},"color":{"field":"s","type":"nominal"}}},
{"data":{"name":"cur"},"mark":{"type":"point","filled":true,"fill":"#555","strokeWidth":0,"size":400,"opacity":1},"encoding":{"x":{"field":"t","type":"quantitative"},"y":{"datum":-2.8,"type":"quantitative"},"shape":{"field":"lab","type":"nominal","scale":{"domain":["300.0","60.0","360.0"],"range":["M-1.75,0.05H1.75V1.2H-1.75Z","M-1.27,0.05H1.27V1.2H-1.27Z","M-1.75,0.05H1.75V1.2H-1.75Z"]},"legend":null}}},
{"data":{"name":"cur"},"mark":{"type":"text","fontSize":10.5,"color":"#eeeeee","dy":6.5,"baseline":"middle"},"encoding":{"x":{"field":"t","type":"quantitative"},"y":{"datum":-2.8,"type":"quantitative"},"text":{"field":"lab"}}},
{"data":{"name":"ro3"},"mark":{"type":"point","filled":true,"fill":"white","strokeWidth":1.8,"size":400,"opacity":1},"encoding":{"x":{"field":"t","type":"quantitative"},"y":{"field":"ly","type":"quantitative"},
 "shape":{"field":"txt","type":"nominal","scale":{"domain":["-0.1","-0.2","0.4","0"],"range":["M-3.42,-0.72H-0.59V0.72H-3.42Z","M-3.42,-0.72H-0.59V0.72H-3.42Z","M0.41,-0.72H2.91V0.72H0.41Z","M0.41,-0.72H2.15V0.72H0.41Z"]},"legend":null},
 "stroke":{"field":"s","type":"nominal","scale":{"domain":["err","em"],"range":["#2bb673","#e8703a"]},"legend":null}}},
{"data":{"name":"ro3"},"transform":[{"filter":"datum.side == 'L'"}],"mark":{"type":"text","fontSize":9.8,"color":"#333","align":"right","dx":-11,"baseline":"middle"},"encoding":{"x":{"field":"t","type":"quantitative"},"y":{"field":"ly","type":"quantitative"},"text":{"field":"txt"}}},
{"data":{"name":"ro3"},"transform":[{"filter":"datum.side == 'R'"}],"mark":{"type":"text","fontSize":9.8,"color":"#333","align":"left","dx":9,"baseline":"middle"},"encoding":{"x":{"field":"t","type":"quantitative"},"y":{"field":"ly","type":"quantitative"},"text":{"field":"txt"}}}
]
}
]
}
